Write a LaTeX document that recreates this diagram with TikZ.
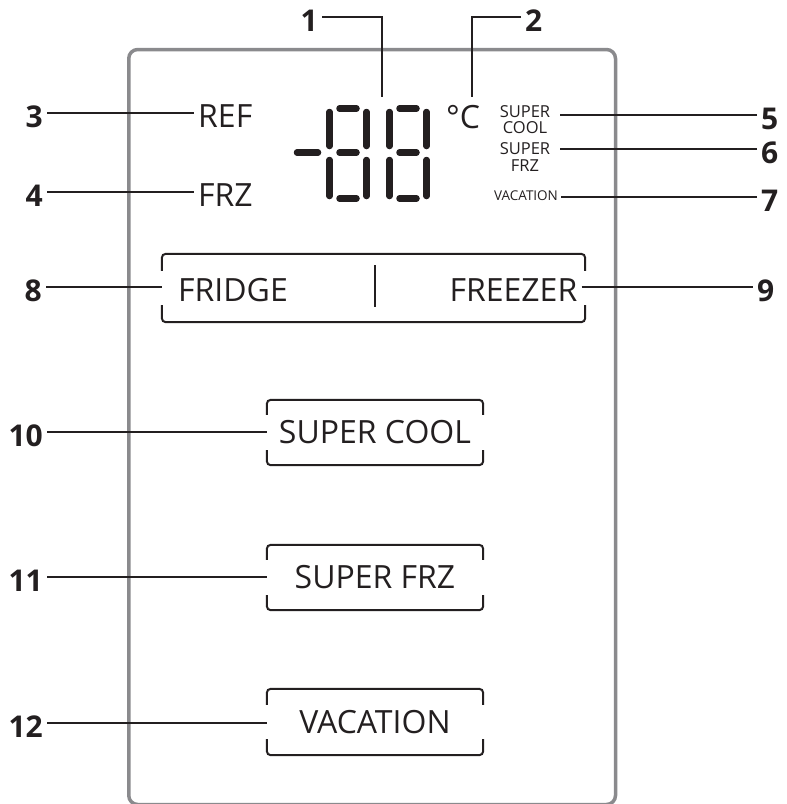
\documentclass[tikz,border=0pt]{standalone}
\usepackage{fontspec}
\setmainfont{Open Sans}
\usepackage{xcolor}
\definecolor{lcdink}{RGB}{35,31,32}
\definecolor{panelgray}{RGB}{138,138,141}
\usepackage{tikz}

\tikzset{
  callout/.style={font=\fontsize{30}{30}\selectfont\bfseries, text=lcdink, inner xsep=4pt, inner ysep=0pt, text height=29pt, text depth=0pt},
  lcdlabel/.style={font=\fontsize{32}{32}\selectfont, text=lcdink, inner xsep=4pt, inner ysep=0pt, text height=28.8pt, text depth=0pt},
  lcdsmall/.style={font=\fontsize{16.5}{16.5}\selectfont, text=lcdink, align=center, inner ysep=0pt},
  button/.style={font=\fontsize{32}{32}\selectfont, text=lcdink, inner sep=0pt, text height=22.8pt, text depth=0pt, minimum width=216pt, minimum height=65pt},
  leader/.style={draw=lcdink, line width=2pt},
  bracket/.style={draw=lcdink, line width=2pt, rounded corners=4pt},
  segment/.style={draw=lcdink, line width=6.5pt, line cap=round},
  panel/.style={draw=panelgray, line width=3.5pt, rounded corners=9pt}
}

\begin{document}
\begin{tikzpicture}[x=1pt, y=-1pt]
  \useasboundingbox (0,0) rectangle (787,804);

  % Display panel
  \draw[panel] (128.75,49.5) rectangle (615.5,804.5);

  % --- Temperature digits "-88" ---
  \draw[segment] (297,152.5) -- (318,152.5);
  \foreach \ox in {0,60} {
    \draw[segment] (339.5+\ox,108.5) -- (356.5+\ox,108.5);
    \draw[segment] (339.5+\ox,152.5) -- (356.5+\ox,152.5);
    \draw[segment] (339.5+\ox,198.5) -- (356.5+\ox,198.5);
    \draw[segment] (329.5+\ox,112) -- (329.5+\ox,146);
    \draw[segment] (366.5+\ox,112) -- (366.5+\ox,146);
    \draw[segment] (329.5+\ox,160) -- (329.5+\ox,196);
    \draw[segment] (366.5+\ox,160) -- (366.5+\ox,196);
  }
  \coordinate (digtop) at (382,97);
  \node[lcdlabel] (degc) at (463,114) {°C};
  \coordinate (degtop) at (472,97);

  % --- Top callouts ---
  \node[callout, anchor=east] (n1) at (322,17) {1};
  \node[callout, anchor=west] (n2) at (521,17) {2};
  \draw[leader] (n1.east) -| (digtop);
  \draw[leader] (n2.west) -| (degtop);

  % --- Left indicators ---
  \node[callout, anchor=east] (n3) at (47,113) {3};
  \node[lcdlabel, anchor=west] (ref) at (194,113) {REF};
  \draw[leader] (n3.east) -- (ref.west);

  \node[callout, anchor=east] (n4) at (47,192) {4};
  \node[lcdlabel, anchor=west] (frz) at (194,192) {FRZ};
  \draw[leader] (n4.east) -- (frz.west);

  % --- Right indicators ---
  \node[lcdsmall, inner xsep=10pt] (supcool) at (525,119.5) {SUPER\\COOL};
  \node[lcdsmall, inner xsep=10pt, font=\fontsize{16.5}{17}\selectfont] (supfrz) at (525,157.5) {SUPER\\FRZ};
  \node[lcdsmall, inner xsep=3pt, font=\fontsize{13.5}{14}\selectfont] (vacind) at (526,196) {VACATION};

  \node[callout, anchor=west] (n5) at (757,115) {5};
  \node[callout, anchor=west] (n6) at (757,149) {6};
  \node[callout, anchor=west] (n7) at (757,197) {7};
  \draw[leader] (n5.west) -- (n5.west -| supcool.east);
  \draw[leader] (n6.west) -- (n6.west -| supfrz.east);
  \draw[leader] (n7.west) -- (n7.west -| vacind.east);

  % --- Fridge / freezer selector ---
  \node[minimum width=423pt, minimum height=68pt, inner sep=0pt] (modes) at (373.5,288) {};
  \node[lcdlabel, anchor=west] (fridge) at (174,287) {FRIDGE};
  \node[lcdlabel, anchor=east] (freezer) at (581.5,287) {FREEZER};
  \draw[lcdink, line width=2.5pt] (375,265) -- (375,307);

  \node[callout, anchor=east] (n8) at (46,287) {8};
  \node[callout, anchor=west] (n9) at (753,287) {9};
  \draw[leader] (n8.east) -- (n8.east -| modes.west);
  \draw[leader] (freezer.east) -- (n9.west);

  % --- Buttons ---
  \node[button] (scbtn) at (375,432.5) {SUPER COOL};
  \node[button] (sfbtn) at (375,577.5) {SUPER FRZ};
  \node[button, minimum height=66pt] (vacbtn) at (375,722) {VACATION};

  \node[callout, anchor=east] (n10) at (47,432) {10};
  \node[callout, anchor=east] (n11) at (47,577) {11};
  \node[callout, anchor=east] (n12) at (47,723) {12};
  \draw[leader] (n10.east) -- (n10.east -| scbtn.west);
  \draw[leader] (n11.east) -- (n11.east -| sfbtn.west);
  \draw[leader] (n12.east) -- (n12.east -| vacbtn.west);

  % bracket frames
  \foreach \b/\s in {modes/17, scbtn/15, sfbtn/15, vacbtn/16} {
    \draw[bracket] ([yshift=-\s pt]\b.north west) -- (\b.north west) -- (\b.north east) -- ([yshift=-\s pt]\b.north east);
    \draw[bracket] ([yshift=\s pt]\b.south west) -- (\b.south west) -- (\b.south east) -- ([yshift=\s pt]\b.south east);
  }
\end{tikzpicture}
\end{document}
